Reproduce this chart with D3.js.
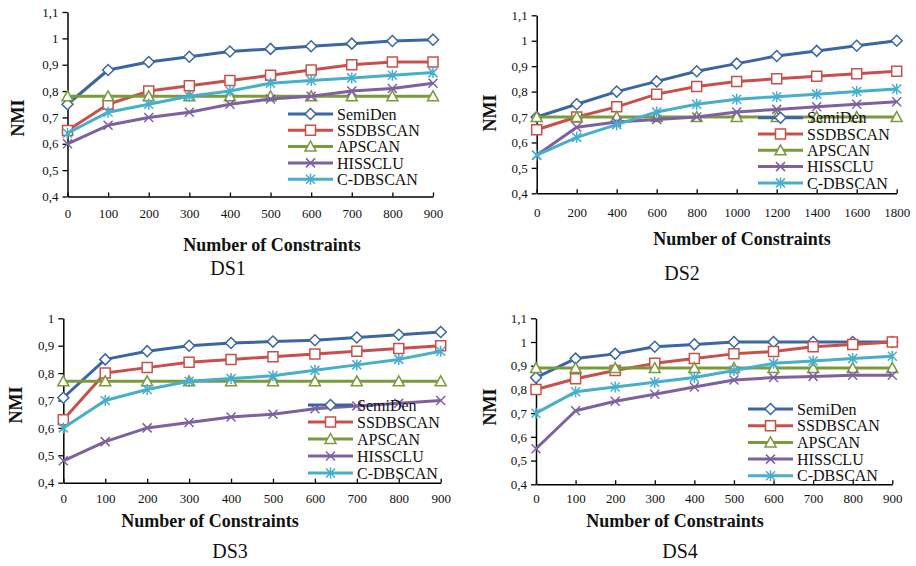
<!DOCTYPE html>
<html>
<head>
<meta charset="utf-8">
<script src="https://cdn.jsdelivr.net/npm/d3@7"></script>
<style>
body { margin: 0; background: #fff; }
svg { display: block; font-family: "Liberation Serif", "Times New Roman", serif; }
</style>
</head>
<body>
<svg id="chart" width="916" height="566"></svg>
<script>
// data
var seriesNames = ["SemiDen", "SSDBSCAN", "APSCAN", "HISSCLU", "C-DBSCAN"];
var seriesColors = ["#3b66a2", "#c8504c", "#7b9a3c", "#7e61a0", "#47aecb"];
var seriesMarkers = ["diamond", "square", "triangle", "cross", "star"];

var constraints900 = [0, 100, 200, 300, 400, 500, 600, 700, 800, 900];
var constraints1800 = [0, 200, 400, 600, 800, 1000, 1200, 1400, 1600, 1800];

var ds1SemiDen  = [0.75, 0.88, 0.91, 0.93, 0.95, 0.96, 0.97, 0.98, 0.99, 0.995];
var ds1SSDBSCAN = [0.65, 0.75, 0.80, 0.82, 0.84, 0.86, 0.88, 0.90, 0.91, 0.91];
var ds1APSCAN   = [0.78, 0.78, 0.78, 0.78, 0.78, 0.78, 0.78, 0.78, 0.78, 0.78];
var ds1HISSCLU  = [0.60, 0.67, 0.70, 0.72, 0.75, 0.77, 0.78, 0.80, 0.81, 0.83];
var ds1CDBSCAN  = [0.64, 0.72, 0.75, 0.78, 0.80, 0.83, 0.84, 0.85, 0.86, 0.87];

var ds2SemiDen  = [0.70, 0.75, 0.80, 0.84, 0.88, 0.91, 0.94, 0.96, 0.98, 1.00];
var ds2SSDBSCAN = [0.65, 0.70, 0.74, 0.79, 0.82, 0.84, 0.85, 0.86, 0.87, 0.88];
var ds2APSCAN   = [0.70, 0.70, 0.70, 0.70, 0.70, 0.70, 0.70, 0.70, 0.70, 0.70];
var ds2HISSCLU  = [0.55, 0.66, 0.68, 0.69, 0.70, 0.72, 0.73, 0.74, 0.75, 0.76];
var ds2CDBSCAN  = [0.55, 0.62, 0.67, 0.72, 0.75, 0.77, 0.78, 0.79, 0.80, 0.81];

var ds3SemiDen  = [0.71, 0.85, 0.88, 0.90, 0.91, 0.915, 0.92, 0.93, 0.94, 0.95];
var ds3SSDBSCAN = [0.63, 0.80, 0.82, 0.84, 0.85, 0.86, 0.87, 0.88, 0.89, 0.90];
var ds3APSCAN   = [0.77, 0.77, 0.77, 0.77, 0.77, 0.77, 0.77, 0.77, 0.77, 0.77];
var ds3HISSCLU  = [0.48, 0.55, 0.60, 0.62, 0.64, 0.65, 0.67, 0.68, 0.69, 0.70];
var ds3CDBSCAN  = [0.60, 0.70, 0.74, 0.77, 0.78, 0.79, 0.81, 0.83, 0.85, 0.88];

var ds4SemiDen  = [0.85, 0.93, 0.95, 0.98, 0.99, 1.00, 1.00, 1.00, 1.00, 1.00];
var ds4SSDBSCAN = [0.80, 0.845, 0.88, 0.91, 0.93, 0.95, 0.96, 0.98, 0.99, 1.00];
var ds4APSCAN   = [0.89, 0.89, 0.89, 0.89, 0.89, 0.89, 0.89, 0.89, 0.89, 0.89];
var ds4HISSCLU  = [0.55, 0.71, 0.75, 0.78, 0.81, 0.84, 0.85, 0.855, 0.86, 0.86];
var ds4CDBSCAN  = [0.70, 0.79, 0.81, 0.83, 0.85, 0.88, 0.91, 0.92, 0.93, 0.94];

var yTicks11 = [0.4, 0.5, 0.6, 0.7, 0.8, 0.9, 1, 1.1];
var yTicks10 = [0.4, 0.5, 0.6, 0.7, 0.8, 0.9, 1];

// panel placement (pixels)
var panels = [
    { name: "DS1", xs: constraints900, ys: [ds1SemiDen, ds1SSDBSCAN, ds1APSCAN, ds1HISSCLU, ds1CDBSCAN], yTicks: yTicks11,
      x0: 67.5, x1: 433, yTop: 12, yBot: 196.5, labelY: 213, titleX: 272, titleY: 245, dsX: 228, dsY: 268,
      nmiX: 18, nmiY: 118, legX: 288, legY: 114, legStep: 16.3 },
    { name: "DS2", xs: constraints1800, ys: [ds2SemiDen, ds2SSDBSCAN, ds2APSCAN, ds2HISSCLU, ds2CDBSCAN], yTicks: yTicks11,
      x0: 536.7, x1: 896.7, yTop: 15.3, yBot: 193.3, labelY: 212, titleX: 742, titleY: 239, dsX: 682, dsY: 273,
      nmiX: 490, nmiY: 113, legX: 758, legY: 117.7, legStep: 16.3 },
    { name: "DS3", xs: constraints900, ys: [ds3SemiDen, ds3SSDBSCAN, ds3APSCAN, ds3HISSCLU, ds3CDBSCAN], yTicks: yTicks10,
      x0: 63.3, x1: 440.7, yTop: 318.3, yBot: 482.7, labelY: 498, titleX: 210, titleY: 521, dsX: 230, dsY: 551,
      nmiX: 16, nmiY: 405, legX: 308, legY: 405, legStep: 17 },
    { name: "DS4", xs: constraints900, ys: [ds4SemiDen, ds4SSDBSCAN, ds4APSCAN, ds4HISSCLU, ds4CDBSCAN], yTicks: yTicks11,
      x0: 536, x1: 892.3, yTop: 318.3, yBot: 484.3, labelY: 498, titleX: 675, titleY: 521, dsX: 680, dsY: 551,
      nmiX: 490, nmiY: 407, legX: 748, legY: 409, legStep: 16.7 }
];

var svg = d3.select("#chart");

function markerPath(type) {
    if (type == "diamond") return "M0,-5.5L5.5,0L0,5.5L-5.5,0Z";
    if (type == "square") return "M-5,-5H5V5H-5Z";
    if (type == "triangle") return "M0,-5.5L5.5,4.5H-5.5Z";
    if (type == "cross") return "M-4.5,-4.5L4.5,4.5M4.5,-4.5L-4.5,4.5";
    return "M-4.5,-4.5L4.5,4.5M4.5,-4.5L-4.5,4.5M0,-5.5V5.5";
}

function fmt(v) { return d3.format("~g")(v).replace(".", ","); }

panels.forEach(function(p) {
    var g = svg.append("g").attr("class", "panel");
    var yMax = p.yTicks[p.yTicks.length - 1];
    var x = d3.scaleLinear().domain([p.xs[0], p.xs[p.xs.length - 1]]).range([p.x0, p.x1]);
    var y = d3.scaleLinear().domain([0.4, yMax]).range([p.yBot, p.yTop]);

    // y axis
    var ya = g.append("g").attr("transform", "translate(" + p.x0 + ",0)")
        .call(d3.axisLeft(y).tickValues(p.yTicks).tickFormat(fmt).tickSize(5).tickSizeOuter(0));
    ya.select(".domain").attr("stroke", "#000").attr("stroke-width", 1.5);
    ya.selectAll(".tick line").attr("stroke", "#000").attr("stroke-width", 1.3);
    ya.selectAll(".tick text").attr("x", -9).style("font-size", "13px").style("font-family", "Liberation Serif").attr("fill", "#111");

    // x axis
    var xa = g.append("g").attr("transform", "translate(0," + p.yBot + ")")
        .call(d3.axisBottom(x).tickValues(p.xs).tickFormat(d3.format("d")).tickSize(0).tickSizeOuter(0));
    xa.select(".domain").attr("stroke", "#000").attr("stroke-width", 1.5);
    xa.selectAll(".tick line").attr("y1", -4).attr("y2", 0).attr("stroke", "#000").attr("stroke-width", 1.3);
    xa.selectAll(".tick text").attr("y", p.labelY - p.yBot).attr("dy", "0.35em")
        .style("font-size", "13px").style("font-family", "Liberation Serif").attr("fill", "#111");

    // series
    var line = d3.line().x(function(d) { return x(d[0]); }).y(function(d) { return y(d[1]); });
    p.ys.forEach(function(vals, i) {
        var pts = p.xs.map(function(xv, k) { return [xv, vals[k]]; });
        g.append("path").datum(pts).attr("d", line)
            .attr("fill", "none").attr("stroke", seriesColors[i]).attr("stroke-width", 3)
            .attr("stroke-linejoin", "round");
        g.selectAll("path.m" + i).data(pts).enter().append("path")
            .attr("class", "m" + i)
            .attr("d", markerPath(seriesMarkers[i]))
            .attr("transform", function(d) { return "translate(" + x(d[0]) + "," + y(d[1]) + ")"; })
            .attr("fill", "#fff").attr("stroke", seriesColors[i]).attr("stroke-width", 1.5);
    });

    // legend
    seriesNames.forEach(function(s, i) {
        var ly = p.legY + i * p.legStep;
        g.append("line").attr("x1", p.legX).attr("x2", p.legX + 45).attr("y1", ly).attr("y2", ly)
            .attr("stroke", seriesColors[i]).attr("stroke-width", 3);
        g.append("path").attr("d", markerPath(seriesMarkers[i]))
            .attr("transform", "translate(" + (p.legX + 22.5) + "," + ly + ")")
            .attr("fill", "#fff").attr("stroke", seriesColors[i]).attr("stroke-width", 1.5);
        g.append("text").attr("x", p.legX + 49).attr("y", ly).attr("dy", "0.35em")
            .style("font-size", "16px").attr("fill", "#111").text(s);
    });

    // labels
    g.append("text").attr("transform", "translate(" + p.nmiX + "," + p.nmiY + ") rotate(-90)")
        .attr("text-anchor", "middle").attr("dy", "0.35em")
        .style("font-size", "18px").style("font-weight", "bold").attr("fill", "#111").text("NMI");
    g.append("text").attr("x", p.titleX).attr("y", p.titleY).attr("dy", "0.35em")
        .attr("text-anchor", "middle").style("font-size", "18px").style("font-weight", "bold")
        .attr("fill", "#111").text("Number of Constraints");
    g.append("text").attr("x", p.dsX).attr("y", p.dsY).attr("dy", "0.35em")
        .attr("text-anchor", "middle").style("font-size", "20px").attr("fill", "#111").text(p.name);
});
</script>
</body>
</html>
